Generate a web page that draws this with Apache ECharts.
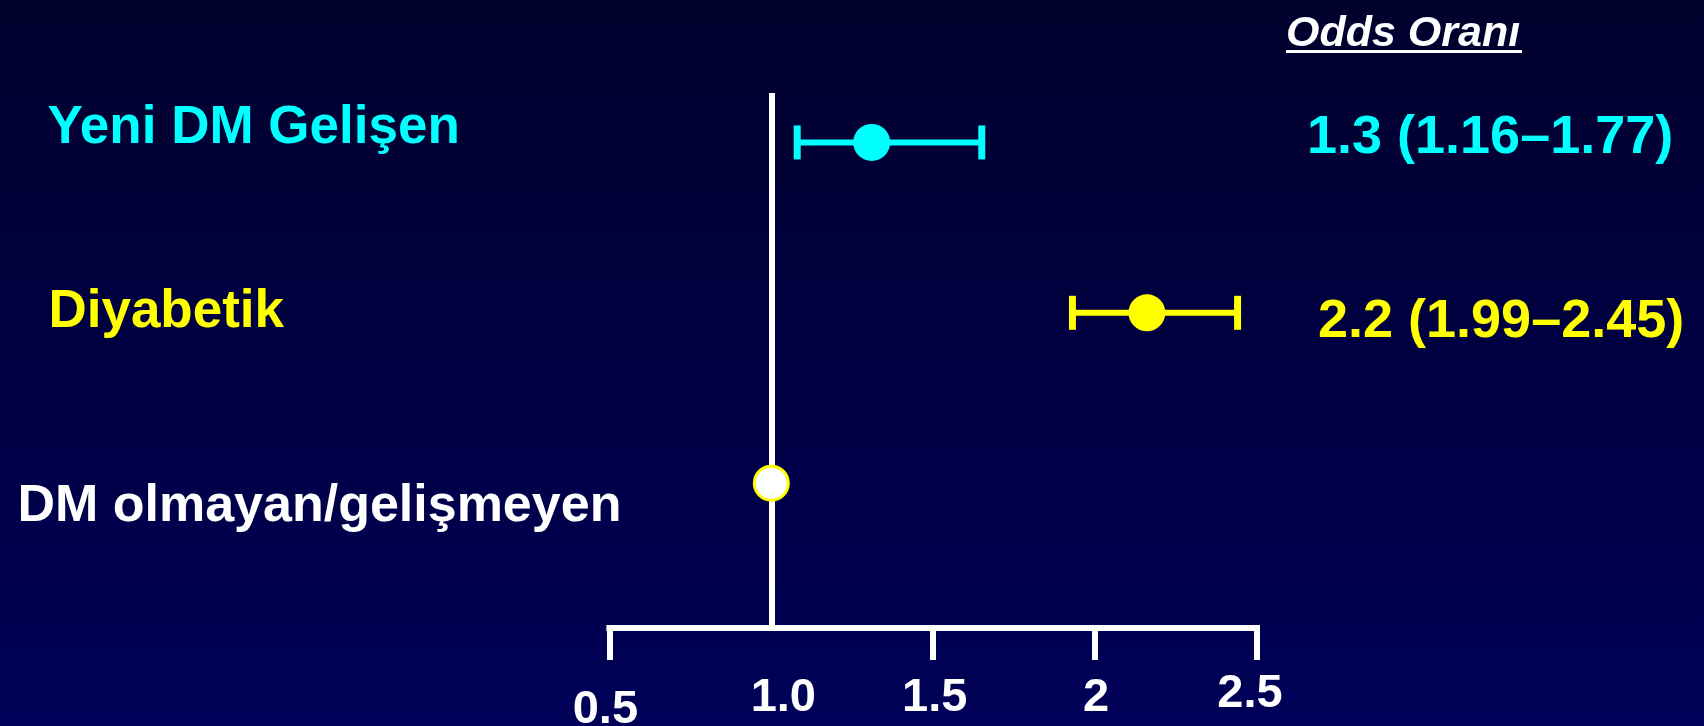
<!DOCTYPE html>
<html><head><meta charset="utf-8">
<script src="https://cdn.jsdelivr.net/npm/echarts@6/dist/echarts.min.js"></script>
<style>html,body{margin:0;padding:0;background:#000030}#c{width:1704px;height:726px}</style>
</head><body><div id="c"></div>
<script>
// ---- data ----
const rowNames = ['DM olmayan/gelişmeyen', 'Diyabetik', 'Yeni DM Gelişen'];
const rowColors = ['#FFFFFF', '#FFFF00', '#00FFFF'];
const oddsRatio = [1.0, 2.16, 1.31];
const ciLow = [null, 1.93, 1.08];
const ciHigh = [null, 2.44, 1.65];
const orLabels = ['', '2.2 (1.99–2.45)', '1.3 (1.16–1.77)'];
const xTickValues = [0.5, 1.0, 1.5, 2.0, 2.5];
const xTickLabels = ['0.5', '1.0', '1.5', '2', '2.5'];
const xTickMarks = [0.5, 1.5, 2.0, 2.5];
const refValue = 1.0;
const headerText = 'Odds Oranı';

// ---- styles ----
const FONT = '"Liberation Sans", Arial, sans-serif';
const leftRich = {
  r0: {color: '#FFFFFF', fontSize: 52, fontWeight: 'bold', fontFamily: FONT, padding: [46, 0, 0, 0]},
  r1: {color: '#FFFF00', fontSize: 53, fontWeight: 'bold', fontFamily: FONT, padding: [0, 0, 0, 31]},
  r2: {color: '#00FFFF', fontSize: 53, fontWeight: 'bold', fontFamily: FONT, padding: [0, 0, 28, 30]}
};
const rightRich = {
  r1: {color: '#FFFF00', fontSize: 54, fontWeight: 'bold', fontFamily: FONT, padding: [18, 0, 0, 11]},
  r2: {color: '#00FFFF', fontSize: 54, fontWeight: 'bold', fontFamily: FONT, padding: [0, 0, 8, 0]}
};
const xRichBase = {color: '#FFFFFF', fontSize: 47, fontWeight: 'bold', fontFamily: FONT, lineHeight: 50};
const xRich = {
  t0: Object.assign({}, xRichBase, {padding: [25, 8, 0, 0]}),
  t1: Object.assign({}, xRichBase, {padding: [0, 0, 0, 24]}),
  t2: Object.assign({}, xRichBase, {padding: [0, 0, 0, 3]}),
  t3: Object.assign({}, xRichBase, {padding: [0, 0, 0, 2]}),
  t4: Object.assign({}, xRichBase, {padding: [0, 14, 8, 0]})
};

const ciData = [];
for (let i = 0; i < rowNames.length; i++) {
  if (ciLow[i] != null) ciData.push([ciLow[i], ciHigh[i], i]);
}
const pointData = oddsRatio.map((v, i) => ({
  value: [v, i],
  symbolSize: i === 0 ? 34 : 37,
  itemStyle: {color: rowColors[i], opacity: 1, borderColor: i === 0 ? '#FFFF00' : rowColors[i], borderWidth: i === 0 ? 3 : 0}
}));

const chart = echarts.init(document.getElementById('c'), null, {renderer: 'canvas'});
chart.setOption({
  animation: false,
  backgroundColor: {type: 'linear', x: 0, y: 0, x2: 0, y2: 1,
    colorStops: [{offset: 0, color: '#00002c'}, {offset: 1, color: '#000058'}]},
  title: {
    text: headerText, left: 1286, top: 13, padding: 0,
    textStyle: {color: '#FFFFFF', fontSize: 43, fontWeight: 'bold', fontStyle: 'italic', fontFamily: FONT, lineHeight: 43}
  },
  graphic: [{type: 'rect', shape: {x: 1286, y: 50, width: 236, height: 3}, style: {fill: '#FFFFFF'}, silent: true}],
  grid: {left: 609.4, right: 447, top: 93, bottom: 98, containLabel: false, outerBoundsMode: 'none'},
  xAxis: {
    type: 'value', min: 0.5, max: 2.5, interval: 0.5,
    splitLine: {show: false},
    axisLine: {show: true, onZero: false, lineStyle: {color: '#FFFFFF', width: 6, cap: 'square'}},
    axisTick: {show: true, customValues: xTickMarks, length: 32, inside: false, lineStyle: {color: '#FFFFFF', width: 6}},
    axisLabel: {
      margin: 45, showMinLabel: true, showMaxLabel: true,
      formatter: function (v) {
        const i = xTickValues.findIndex(t => Math.abs(t - v) < 1e-6);
        return i < 0 ? '' : '{t' + i + '|' + xTickLabels[i] + '}';
      },
      rich: xRich
    }
  },
  yAxis: [{
    type: 'value', min: -0.85, max: 2.29, position: 'left',
    axisLine: {show: false}, axisTick: {show: false}, splitLine: {show: false},
    axisLabel: {
      customValues: [0, 1, 2], margin: 592, align: 'left',
      formatter: v => '{r' + v + '|' + rowNames[v] + '}', rich: leftRich
    }
  }, {
    type: 'value', min: -0.85, max: 2.29, position: 'right',
    axisLine: {show: false}, axisTick: {show: false}, splitLine: {show: false},
    axisLabel: {
      customValues: [1, 2], margin: 50, align: 'left',
      formatter: v => orLabels[v] ? '{r' + v + '|' + orLabels[v] + '}' : '', rich: rightRich
    }
  }],
  series: [{
    type: 'custom', z: 3,
    data: ciData,
    encode: {x: [0, 1], y: 2},
    renderItem: function (params, api) {
      const row = api.value(2);
      const lo = api.coord([api.value(0), row]);
      const hi = api.coord([api.value(1), row]);
      const c = rowColors[row];
      const h = 17;
      return {type: 'group', children: [
        {type: 'line', shape: {x1: lo[0], y1: lo[1], x2: hi[0], y2: hi[1]}, style: {stroke: c, lineWidth: 6}},
        {type: 'line', shape: {x1: lo[0], y1: lo[1] - h, x2: lo[0], y2: lo[1] + h}, style: {stroke: c, lineWidth: 7}},
        {type: 'line', shape: {x1: hi[0], y1: hi[1] - h, x2: hi[0], y2: hi[1] + h}, style: {stroke: c, lineWidth: 7}}
      ]};
    },
    markLine: {
      silent: true, symbol: ['none', 'none'], label: {show: false},
      lineStyle: {color: '#FFFFFF', width: 6, type: 'solid'},
      data: [{xAxis: refValue}]
    }
  }, {
    type: 'scatter', z: 5, symbol: 'circle',
    data: pointData
  }]
});
</script></body></html>
